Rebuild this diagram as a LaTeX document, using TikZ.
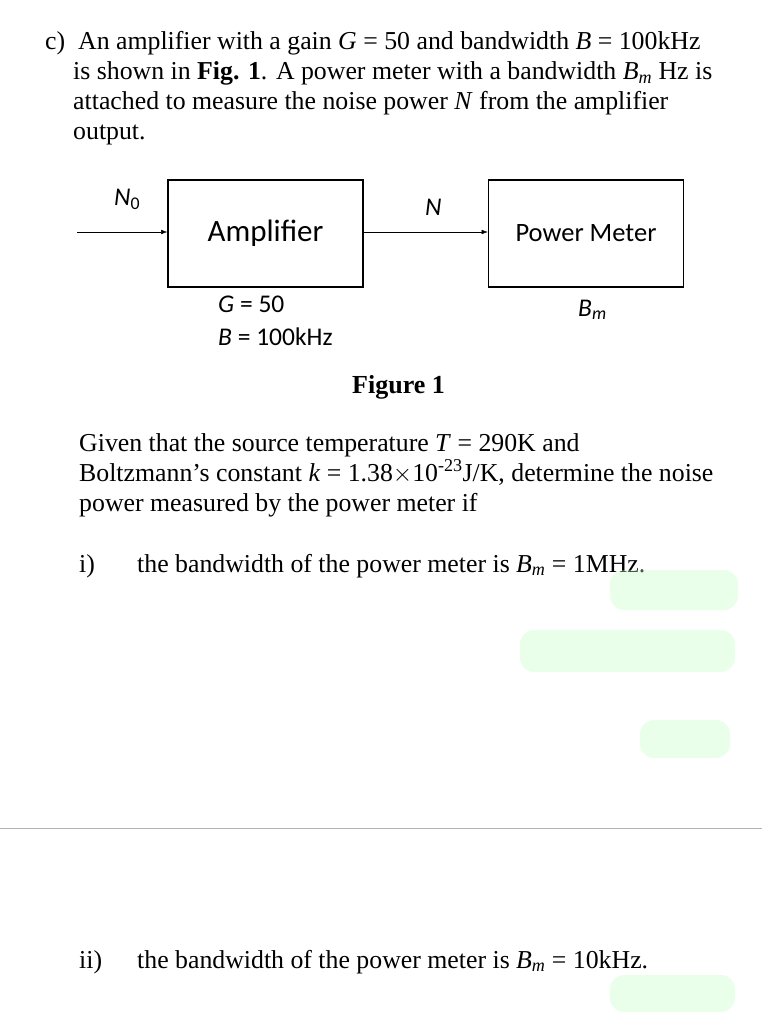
\documentclass[tikz,border=0pt]{standalone}
\usepackage{fontspec}
\setmainfont{Liberation Serif}
\newfontfamily\diagfont{Carlito}
\usetikzlibrary{arrows.meta,positioning}
\tikzset{
  txt/.style={anchor=base west,inner sep=0pt,font=\fontsize{25.8}{30}\selectfont},
  blk/.style={draw,line width=1.6pt,minimum width=195pt,minimum height=107pt,font=\diagfont\fontsize{31}{36}\selectfont},
  lbl/.style={anchor=base west,inner sep=0pt,font=\diagfont\fontsize{25.5}{30}\selectfont},
  sig/.style={-{Latex[length=6pt,width=4.5pt]}},
  smudge/.style={fill=green!25!white,opacity=0.35,rounded corners=14pt,draw=none}
}
\begin{document}
\begin{tikzpicture}[x=1pt,y=-1pt]
\useasboundingbox (0,0) rectangle (762,1024);
\node[txt] (t1) at (45,50) {c)\ \ An amplifier with a gain \textit{G} = 50 and bandwidth \textit{B} = 100kHz};
\node[txt] (t2) at (73,80) {is shown in \textbf{Fig. 1}. A power meter with a bandwidth \textit{B\textsubscript{m}} Hz is};
\node[txt] (t3) at (73,110) {attached to measure the noise power \textit{N} from the amplifier};
\node[txt] (t4) at (73,140) {output.};
% block diagram
\node[blk] (amp) at (265.5,233.5) {Amplifier};
\node[blk,font=\diagfont\fontsize{26.5}{30}\selectfont] (pm) at (586,233.5) {Power Meter};
\coordinate (in) at (77,232);
\draw[sig] (in) -- (in -| amp.west);
\draw[sig] (amp.east |- in) -- (pm.west |- in);
\node[lbl] (n0) at (114,206) {\textit{N}\textsubscript{0}};
\node[lbl] (n) at (425,216) {\textit{N}};
\node[lbl] (g) at (218,312) {\textit{G} = 50};
\node[lbl] (b) at (218,345) {\textit{B} = 100kHz};
\node[lbl] (bm) at (578,316) {\textit{B}\textsubscript{\textit{m}}};
\node[txt,font=\bfseries\fontsize{26}{30}\selectfont] (fig) at (352,393) {Figure 1};
\node[txt] (t5) at (79,451) {Given that the source temperature \textit{T} = 290K and};
\node[txt] (t6) at (79,481) {Boltzmann's constant \textit{k} = 1.38$\times$10\textsuperscript{-23}J/K, determine the noise};
\node[txt] (t7) at (79,511) {power measured by the power meter if};
\node[txt] (i) at (79,572) {i)};
\node[txt] (t8) at (137,572) {the bandwidth of the power meter is \textit{B\textsubscript{m}} = 1MHz.};
% faint marks
\fill[smudge] (610,570) rectangle (738,610);
\fill[smudge] (520,630) rectangle (735,672);
\fill[smudge] (640,720) rectangle (730,758);
\fill[smudge] (610,975) rectangle (735,1012);
\draw[gray!60,thick] (0,828) -- (762,828);
\node[txt] (ii) at (79,968) {ii)};
\node[txt] (t9) at (137,968) {the bandwidth of the power meter is \textit{B\textsubscript{m}} = 10kHz.};
\end{tikzpicture}
\end{document}
